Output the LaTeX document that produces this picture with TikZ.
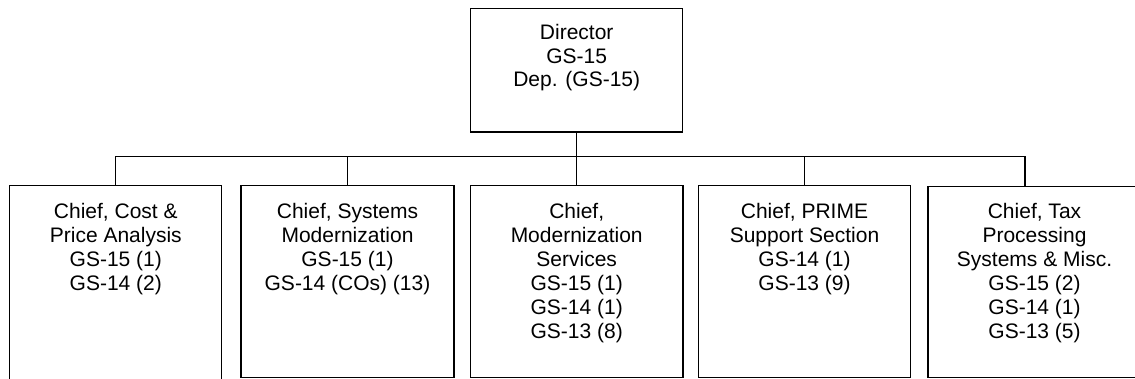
\documentclass[tikz,border=0pt]{standalone}
\usepackage{fontspec}
\setmainfont{Liberation Sans}
% centred block of lines whose base anchor is the baseline of its first line
\newcommand{\boxlines}[1]{\begin{tabular}[t]{@{}c@{}}#1\end{tabular}}
\begin{document}
\begin{tikzpicture}[x=1pt,y=-1pt,
  box/.style={draw=black, line width=1.3pt, rectangle, inner sep=0pt, outer sep=0pt},
  txt/.style={anchor=base, inner sep=0pt, font=\fontsize{21}{24}\selectfont},
  link/.style={draw=black, line width=1.3pt}]
\useasboundingbox (0,0) rectangle (1135,379);
\clip (0,0) rectangle (1135,379);
\fill[white] (0,0) rectangle (1135,379);

% director
\node[box, minimum width=212pt, minimum height=123.7pt] (dir) at (576.7,70.15) {};
\node[txt, font=\fontsize{21}{23.4}\selectfont] (tdir) at (576.7,40) {\boxlines{Director\\GS-15\\Dep. (GS-15)}};

% section chiefs
\node[box, minimum width=212pt, minimum height=210pt] (b1) at (115.8,290.5) {};
\node[box, minimum width=213pt, minimum height=192pt] (b2) at (347.5,281.5) {};
\node[box, minimum width=212.5pt, minimum height=192pt] (b3) at (576.7,281.5) {};
\node[box, minimum width=212.4pt, minimum height=192pt] (b4) at (804.5,281.5) {};
\node[box, minimum width=213pt, minimum height=190.8pt] (b5) at (1034.5,282) {};

\node[txt] (t1) at (b1.north |- 0,218.3) {\boxlines{Chief, Cost \&\\Price Analysis\\GS-15 (1)\\GS-14 (2)}};
\node[txt] (t2) at (b2.north |- 0,218.3) {\boxlines{Chief, Systems\\Modernization\\GS-15 (1)\\GS-14 (COs) (13)}};
\node[txt] (t3) at (b3.north |- 0,218.3) {\boxlines{Chief,\\Modernization\\Services\\GS-15 (1)\\GS-14 (1)\\GS-13 (8)}};
\node[txt] (t4) at (b4.north |- 0,218.3) {\boxlines{Chief, PRIME\\Support Section\\GS-14 (1)\\GS-13 (9)}};
\node[txt] (t5) at (b5.north |- 0,218.3) {\boxlines{Chief, Tax\\Processing\\Systems \& Misc.\\GS-15 (2)\\GS-14 (1)\\GS-13 (5)}};

% connectors
\coordinate (bar) at (0,156.5);
\coordinate (j5) at (1025,156.5);
\draw[link] (dir.south) -- (b3.north);
\draw[link] (b1.north |- bar) -- (j5);
\draw[link] (b1.north |- bar) -- (b1.north);
\draw[link] (b2.north |- bar) -- (b2.north);
\draw[link] (b4.north |- bar) -- (b4.north);
\draw[link] (j5) -- (j5 |- b5.north);
\end{tikzpicture}
\end{document}
